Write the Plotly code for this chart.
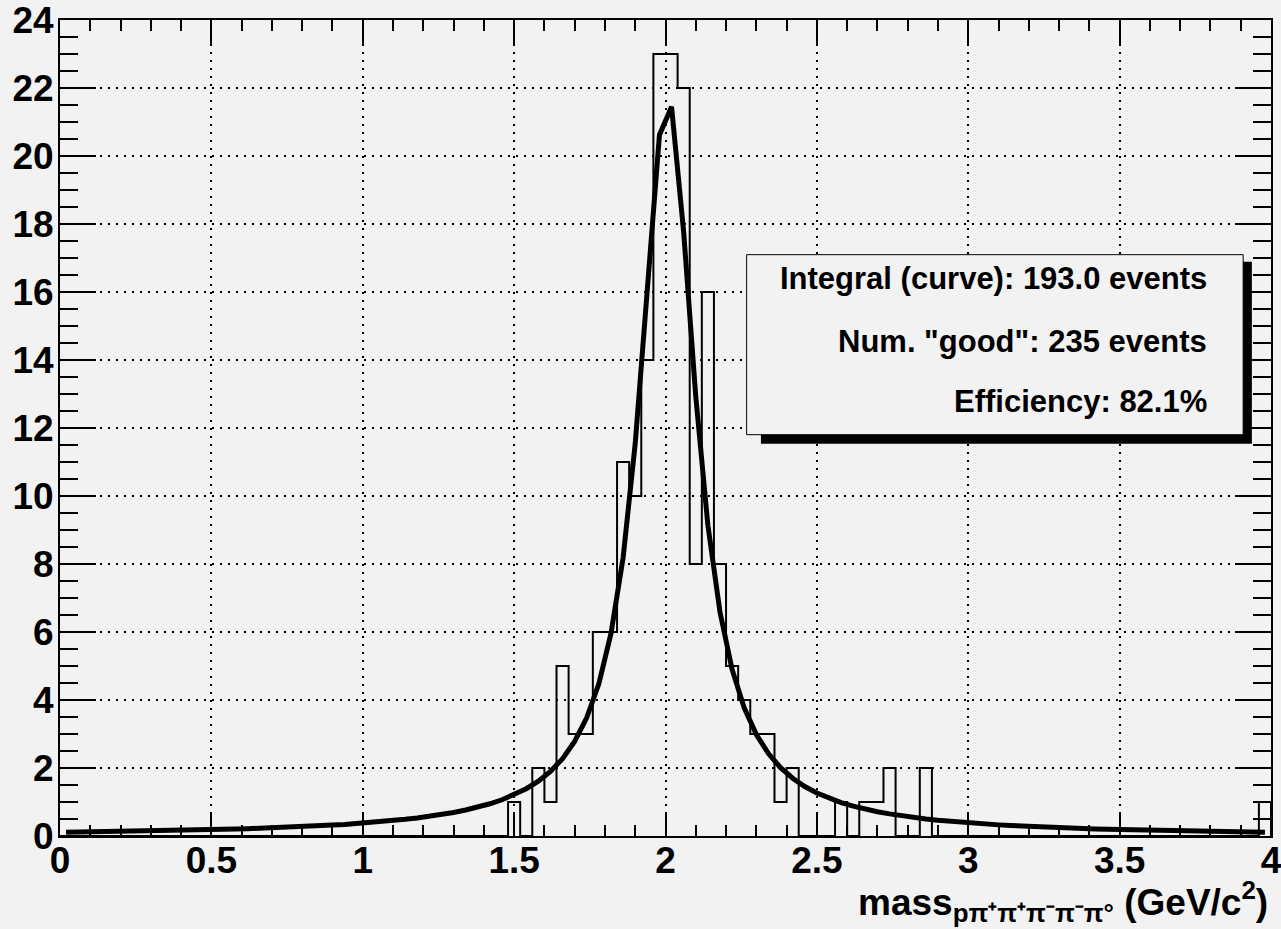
import numpy as np
import plotly.graph_objects as go

# ---------------- data ----------------
bin_low = 0.0
bin_width = 0.04
n_bins = 100

# histogram contents (bins of 0.04 GeV from 0 to 4)
counts = [0] * 37 + [
    1, 0, 2, 1, 5, 3, 3, 6, 6, 11,     # 1.48 .. 1.88
    10, 14, 23, 23, 22, 8, 16, 8, 5, 4,  # 1.88 .. 2.28
    3, 3, 1, 2, 0, 0, 0, 1, 0, 1,        # 2.28 .. 2.68
    1, 2, 0, 0, 2,                       # 2.68 .. 2.88
] + [0] * 27 + [1]

# fitted curve, read at the bin centres 0.02 .. 3.98
curve_values = [
    0.110, 0.114, 0.118, 0.123, 0.128, 0.134, 0.140, 0.146, 0.152, 0.159,
    0.167, 0.175, 0.184, 0.193, 0.203, 0.214, 0.225, 0.238, 0.252, 0.267,
    0.283, 0.300, 0.320, 0.341, 0.365, 0.391, 0.420, 0.453, 0.490, 0.531,
    0.578, 0.631, 0.693, 0.764, 0.848, 0.948, 1.066, 1.211, 1.390, 1.614,
    1.900, 2.276, 2.782, 3.482, 4.483, 5.959, 8.189, 11.548, 16.150, 20.62,
    21.45, 17.761, 12.924, 9.139, 6.583, 4.899, 3.768, 2.984, 2.425, 2.011,
    1.699, 1.456, 1.265, 1.111, 0.984, 0.879, 0.790, 0.715, 0.650, 0.594,
    0.545, 0.502, 0.464, 0.431, 0.400, 0.373, 0.349, 0.327, 0.307, 0.288,
    0.272, 0.256, 0.242, 0.229, 0.217, 0.206, 0.196, 0.187, 0.178, 0.169,
    0.162, 0.155, 0.148, 0.142, 0.136, 0.130, 0.125, 0.120, 0.115, 0.111,
]

x_tickvals = [0, 0.5, 1, 1.5, 2, 2.5, 3, 3.5, 4]
x_ticktext = ["0", "0.5", "1", "1.5", "2", "2.5", "3", "3.5", "4"]
y_tickvals = [0, 2, 4, 6, 8, 10, 12, 14, 16, 18, 20, 22, 24]
y_ticktext = [str(v) for v in y_tickvals]

stats_lines = [
    "Integral (curve): 193.0 events",
    'Num. "good": 235 events',
    "Efficiency: 82.1%",
]

x_title = "mass<sub>pπ⁺π⁺π⁻π⁻π°</sub> (GeV/c<sup>2</sup>)"

# ---------------- figure ----------------
edges = bin_low + bin_width * np.arange(n_bins + 1)
centres = bin_low + bin_width * (np.arange(n_bins) + 0.5)

BG = "#f2f2f2"
FONT = "Liberation Sans, Arial, sans-serif"

fig = go.Figure()

fig.add_trace(go.Scatter(
    x=edges, y=list(counts) + [0],
    mode="lines", line=dict(color="black", width=2, shape="hv"),
    hoverinfo="skip", showlegend=False, cliponaxis=False,
))

fig.add_trace(go.Scatter(
    x=centres, y=curve_values,
    mode="lines", line=dict(color="black", width=5),
    hoverinfo="skip", showlegend=False,
))

axis_common = dict(
    showline=True, linecolor="black", linewidth=2,
    mirror="allticks", ticks="inside", tickcolor="black", tickwidth=2,
    showgrid=True, gridcolor="black", gridwidth=2, griddash="2px,6px",
    zeroline=False, automargin=False, tickmode="array",
    ticklabeloverflow="allow",
    tickfont=dict(family=FONT, size=37, color="black", weight="bold"),
)

fig.update_xaxes(
    range=[0, 4], tickvals=x_tickvals, ticktext=x_ticktext, ticklen=24,
    minor=dict(dtick=0.1, tick0=0, ticklen=11, ticks="inside",
               tickcolor="black", tickwidth=2, showgrid=False),
    ticklabelstandoff=-9,
    **axis_common,
)
fig.update_yaxes(
    range=[0, 24], tickvals=y_tickvals, ticktext=y_ticktext, ticklen=36,
    minor=dict(dtick=0.5, tick0=0, ticklen=18, ticks="inside",
               tickcolor="black", tickwidth=2, showgrid=False),
    ticklabelstandoff=-3,
    **axis_common,
)

# stats box with shadow
fig.add_shape(type="rect", xref="paper", yref="paper",
              x0=0.5788, x1=0.9842, y0=0.4808, y1=0.7038,
              fillcolor="black", line=dict(width=0), layer="above")
fig.add_shape(type="rect", xref="paper", yref="paper",
              x0=0.567, x1=0.977, y0=0.4918, y1=0.7124,
              fillcolor=BG, line=dict(color="black", width=1), layer="above")

line_y_px = [279, 341.5, 401.5]
for txt, py in zip(stats_lines, line_y_px):
    fig.add_annotation(
        xref="paper", yref="paper",
        x=(1209 - 60) / 1211, y=(836.3 - py) / 816,
        xanchor="right", yanchor="middle", showarrow=False,
        text=txt, font=dict(family=FONT, size=31, color="black", weight="bold"),
    )

fig.add_annotation(
    xref="paper", yref="paper", x=(1270 - 60) / 1211, y=(836.3 - 902) / 816,
    xanchor="right", yanchor="middle", showarrow=False,
    text=x_title, font=dict(family=FONT, size=37, color="black", weight="bold"),
)

fig.update_layout(
    width=1281, height=929,
    margin=dict(l=60, r=10, t=20, b=93),
    paper_bgcolor=BG, plot_bgcolor=BG,
    showlegend=False,
)

fig.write_html("out.html", config={"displayModeBar": False},
               post_script="document.body.style.margin='0';")
